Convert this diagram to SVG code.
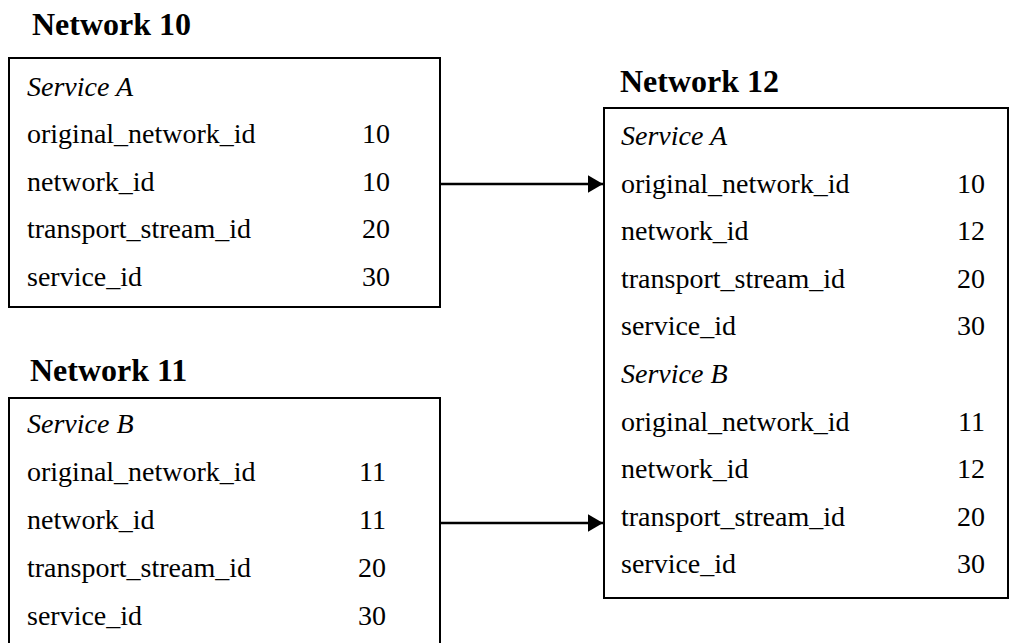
<svg xmlns="http://www.w3.org/2000/svg" width="1011" height="643" viewBox="0 0 1011 643">
<style>
text{font-family:'Liberation Serif','Times New Roman',Times,serif;fill:#000}
.t{font-weight:bold;font-size:32px}
.h{font-style:italic;font-size:28px}
.r{font-size:28px}
.v{font-size:28px;text-anchor:end}
.box{fill:#fff;stroke:#000;stroke-width:2}
.c{stroke:#000;stroke-width:2.5;fill:none}
</style>
<defs>
<marker id="ah" markerWidth="6" markerHeight="7" refX="6" refY="3.5" orient="auto" markerUnits="strokeWidth">
<path d="M0,0 L6,3.5 L0,7 Z" fill="#000"/>
</marker>
</defs>
<rect width="1011" height="643" fill="#fff"/>
<g id="network10">
<text class="t" x="32" y="35">Network 10</text>
<rect class="box" x="9" y="58" width="431" height="249"/>
<text class="h" x="27" y="96">Service A</text>
<text class="r" x="27" y="143">original_network_id</text><text class="v" x="390" y="143">10</text>
<text class="r" x="27" y="191">network_id</text><text class="v" x="390" y="191">10</text>
<text class="r" x="27" y="238">transport_stream_id</text><text class="v" x="390" y="238">20</text>
<text class="r" x="27" y="286">service_id</text><text class="v" x="390" y="286">30</text>
</g>
<g id="network11">
<text class="t" x="30" y="381">Network 11</text>
<rect class="box" x="9" y="398" width="431" height="260"/>
<text class="h" x="27" y="433">Service B</text>
<text class="r" x="27" y="481">original_network_id</text><text class="v" x="386" y="481">11</text>
<text class="r" x="27" y="529">network_id</text><text class="v" x="386" y="529">11</text>
<text class="r" x="27" y="577">transport_stream_id</text><text class="v" x="386" y="577">20</text>
<text class="r" x="27" y="625">service_id</text><text class="v" x="386" y="625">30</text>
</g>
<g id="network12">
<text class="t" x="620" y="92">Network 12</text>
<rect class="box" x="604" y="108" width="404" height="490"/>
<text class="h" x="621" y="145">Service A</text>
<text class="r" x="621" y="193">original_network_id</text><text class="v" x="985" y="193">10</text>
<text class="r" x="621" y="240">network_id</text><text class="v" x="985" y="240">12</text>
<text class="r" x="621" y="288">transport_stream_id</text><text class="v" x="985" y="288">20</text>
<text class="r" x="621" y="335">service_id</text><text class="v" x="985" y="335">30</text>
<text class="h" x="621" y="383">Service B</text>
<text class="r" x="621" y="431">original_network_id</text><text class="v" x="985" y="431">11</text>
<text class="r" x="621" y="478">network_id</text><text class="v" x="985" y="478">12</text>
<text class="r" x="621" y="526">transport_stream_id</text><text class="v" x="985" y="526">20</text>
<text class="r" x="621" y="573">service_id</text><text class="v" x="985" y="573">30</text>
</g>
<g id="connectors">
<line class="c" x1="441" y1="184" x2="603" y2="184" marker-end="url(#ah)"/>
<line class="c" x1="441" y1="523" x2="603" y2="523" marker-end="url(#ah)"/>
</g>
</svg>
